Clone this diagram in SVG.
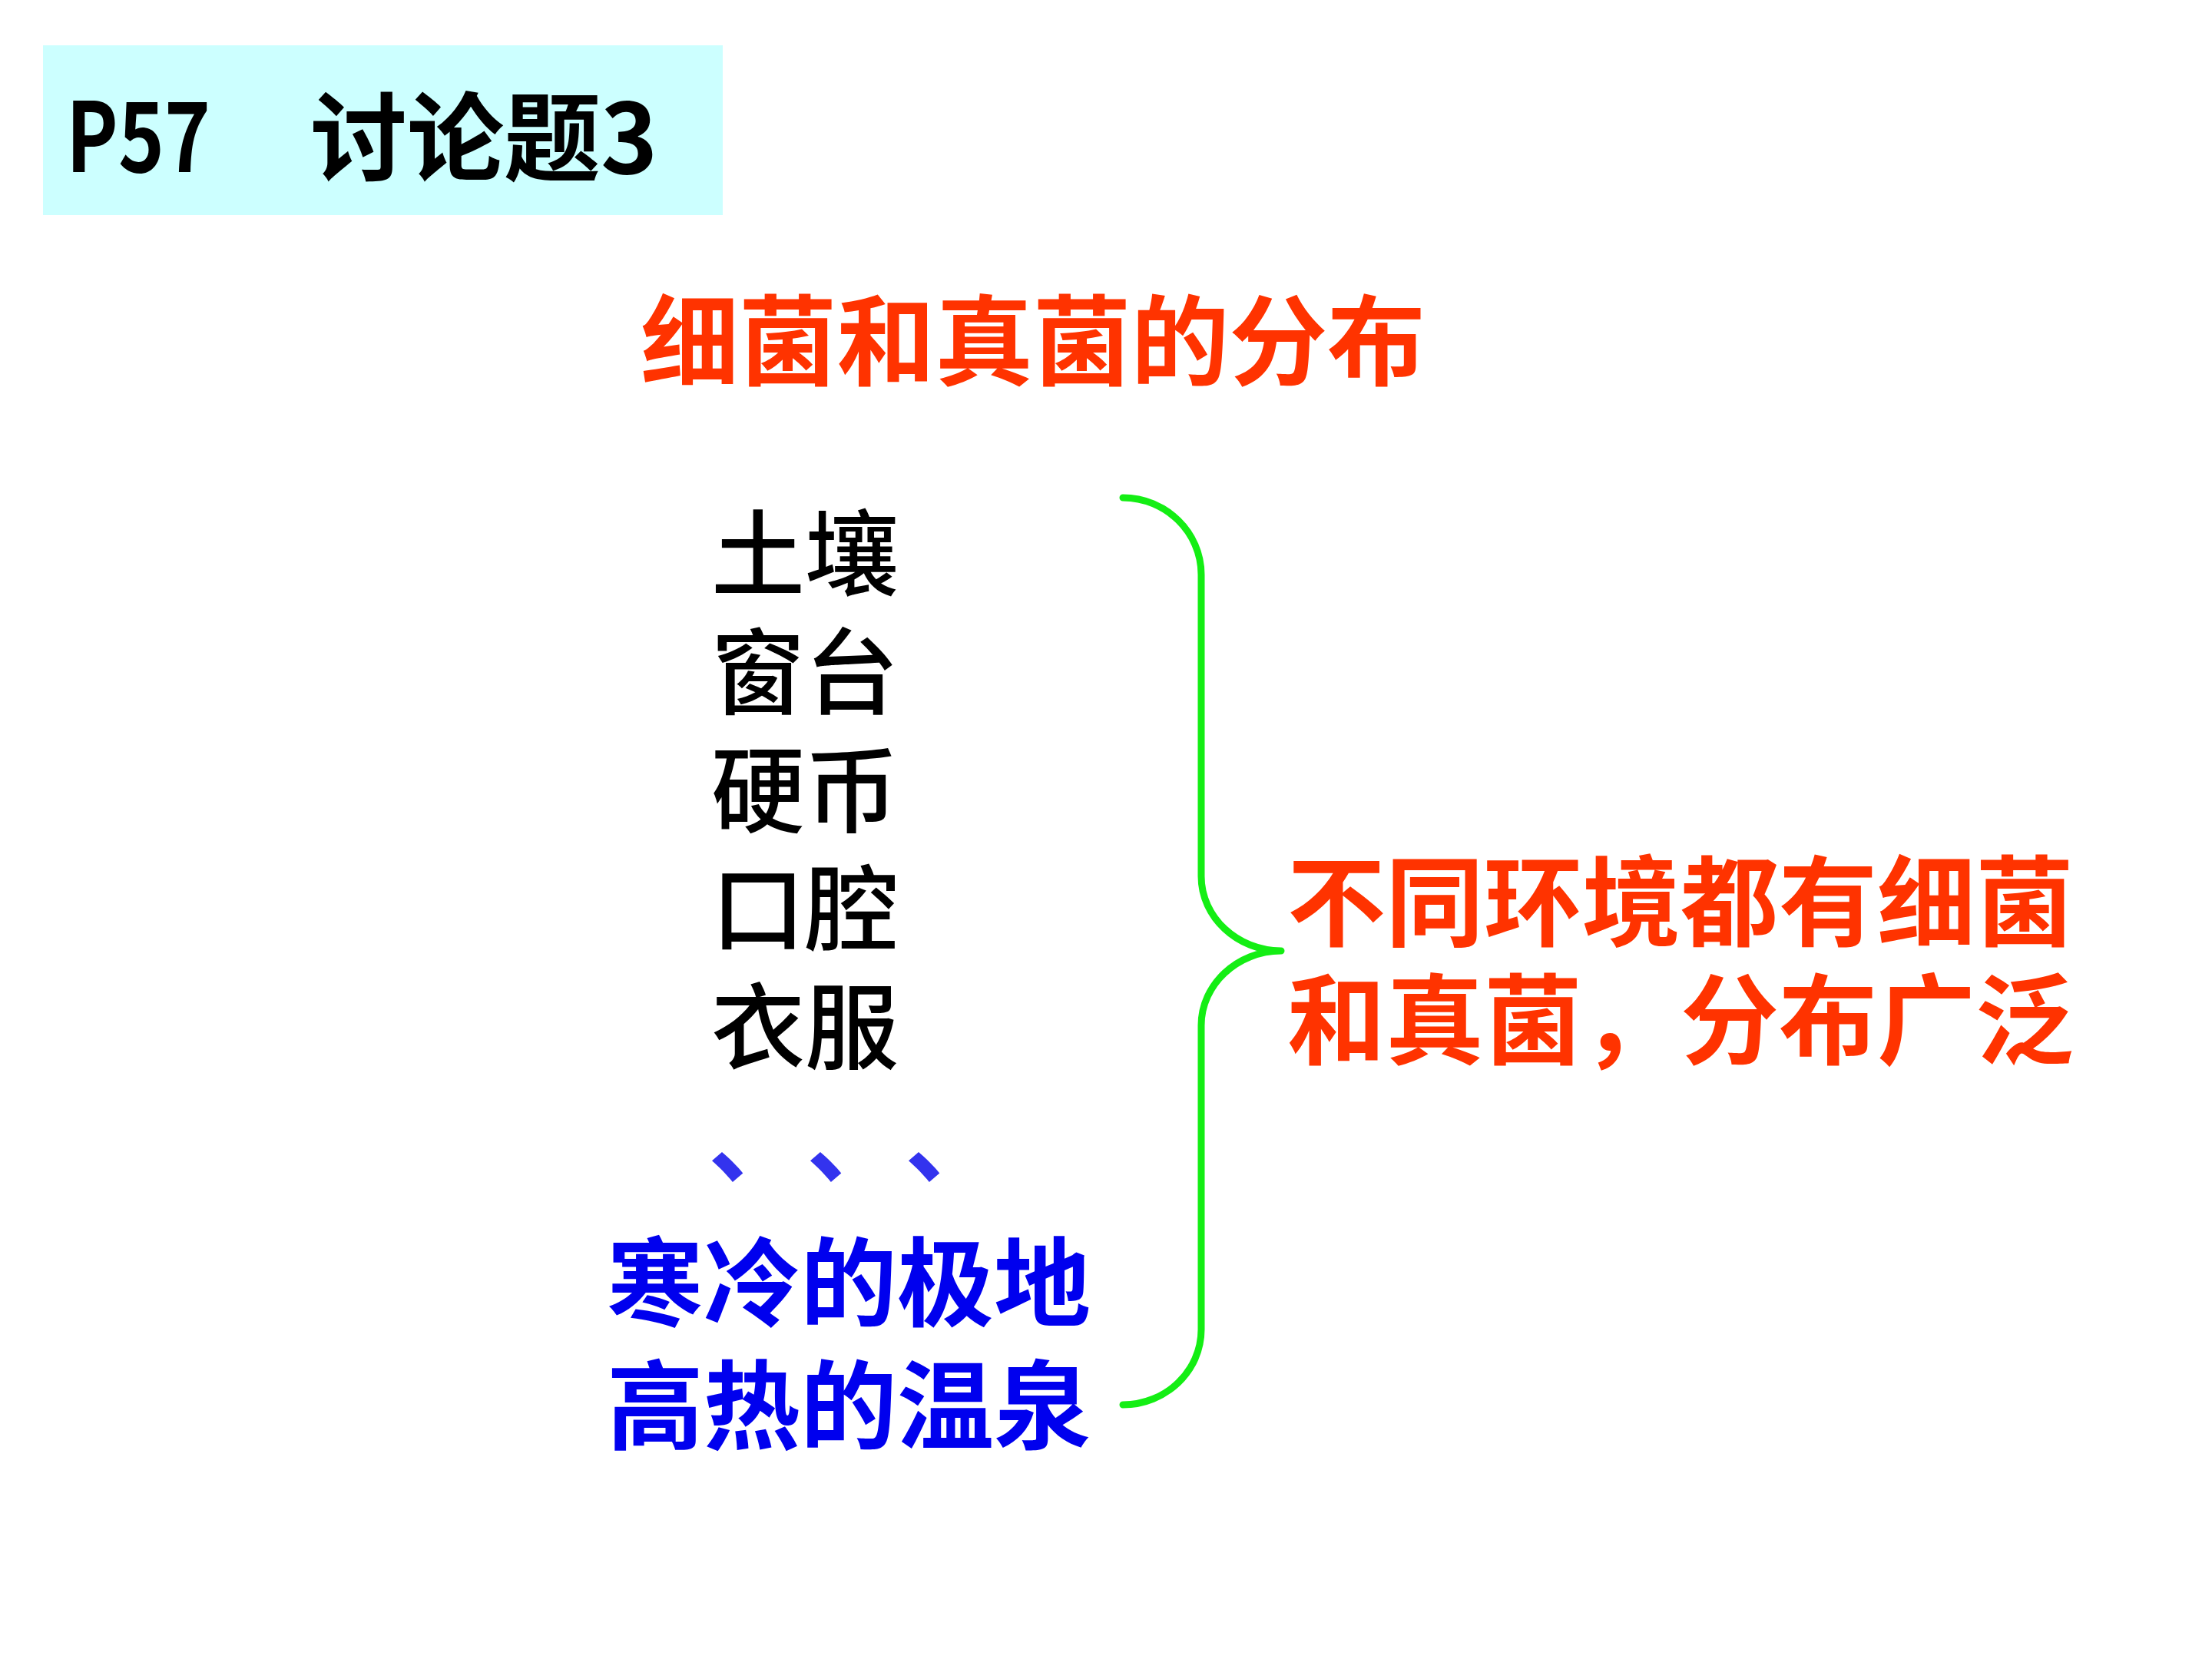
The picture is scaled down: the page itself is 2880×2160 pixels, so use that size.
<svg xmlns="http://www.w3.org/2000/svg" width="2880" height="2160" viewBox="0 0 2880 2160">
<style>
.hd{font-family:"Noto Sans CJK SC","Liberation Sans",sans-serif;font-weight:bold;fill:#000;font-size:126px}
.red{font-family:"Noto Sans CJK SC","Liberation Sans",sans-serif;font-weight:bold;fill:#FF3300;font-size:128px}
.blk{font-family:"Noto Sans CJK SC",sans-serif;font-weight:500;fill:#000;font-size:122px}
.blu{font-family:"Noto Sans CJK SC",sans-serif;font-weight:bold;fill:#0000EE;font-size:126px}
.dot{font-family:"Noto Sans CJK SC",sans-serif;font-weight:bold;fill:#3333EE;font-size:125px}
.brace{fill:none;stroke:#14EE14;stroke-width:9;stroke-linecap:round;stroke-linejoin:round}
</style>
<rect width="2880" height="2160" fill="#FFFFFF"/>
<g id="header">
<rect x="56" y="59" width="885" height="221" fill="#CCFFFF"/>
<text class="hd" x="86" y="224" textLength="188" lengthAdjust="spacingAndGlyphs">P57</text>
<text class="hd" x="404" y="226">讨论题3</text>
</g>
<g id="title">
<text class="red" x="834" y="492" textLength="1022" lengthAdjust="spacing">细菌和真菌的分布</text>
</g>
<g id="places">
<text class="blk" x="926" y="766">土壤</text>
<text class="blk" x="926" y="920">窗台</text>
<text class="blk" x="926" y="1074">硬币</text>
<text class="blk" x="926" y="1228">口腔</text>
<text class="blk" x="926" y="1382">衣服</text>
<text class="dot" x="922" y="1530">、</text>
<text class="dot" x="1050" y="1530">、</text>
<text class="dot" x="1178" y="1530">、</text>
<text class="blu" x="790" y="1717">寒冷的极地</text>
<text class="blu" x="790" y="1877">高热的温泉</text>
</g>
<g id="connectors">
<path class="brace" d="M1462,648 C1518,648 1564,693 1564,748 L1564,1141 C1564,1194 1611,1238 1668,1238 C1611,1238 1564,1282 1564,1335 L1564,1731 C1564,1785 1518,1829 1462,1829"/>
</g>
<g id="conclusion">
<text class="red" x="1676" y="1222">不同环境都有细菌</text>
<text class="red" x="1676" y="1376">和真菌，分布广泛</text>
</g>
</svg>
